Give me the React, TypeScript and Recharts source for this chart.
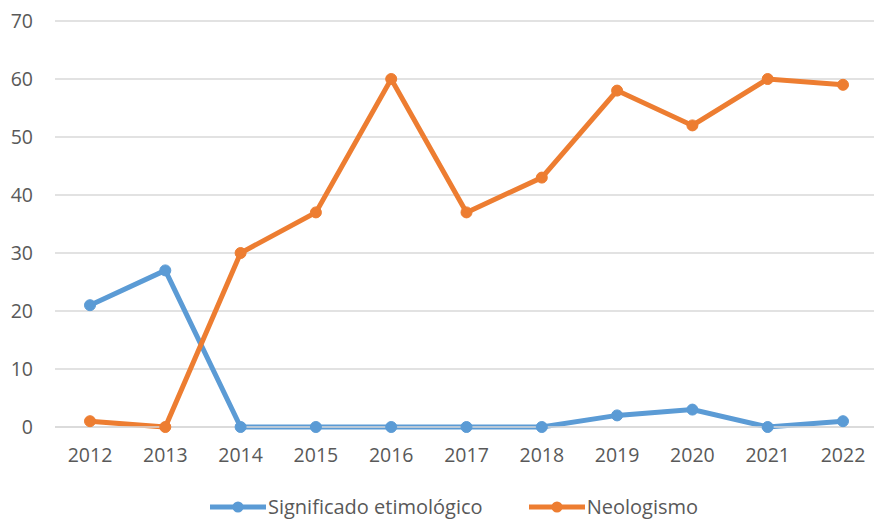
import { LineChart, Line, XAxis, YAxis, CartesianGrid, Legend } from "recharts";

const YEARS = ["2012", "2013", "2014", "2015", "2016", "2017", "2018", "2019", "2020", "2021", "2022"];
const SIGNIFICADO = [21, 27, 0, 0, 0, 0, 0, 2, 3, 0, 1];
const NEOLOGISMO = [1, 0, 30, 37, 60, 37, 43, 58, 52, 60, 59];
const Y_TICKS = [0, 10, 20, 30, 40, 50, 60, 70];

const BLUE = "#5B9BD5";
const ORANGE = "#ED7D31";
const FONT = "'Open Sans', 'Noto Sans', sans-serif";

const data = YEARS.map((year, i) => ({
  year,
  significado: SIGNIFICADO[i],
  neologismo: NEOLOGISMO[i],
}));

const legendItems = [
  { label: "Significado etimológico", color: BLUE },
  { label: "Neologismo", color: ORANGE },
];

function ChartLegend() {
  return (
    <div
      style={{
        display: "flex",
        justifyContent: "center",
        gap: 46,
        paddingTop: 24,
        paddingLeft: 34,
        fontFamily: FONT,
        fontSize: 20,
        color: "#595959",
      }}
    >
      {legendItems.map((item) => (
        <div key={item.label} style={{ display: "flex", alignItems: "center" }}>
          <svg width={56} height={14} style={{ marginRight: 2 }}>
            <line x1={0} y1={7} x2={56} y2={7} stroke={item.color} strokeWidth={5} />
            <circle cx={28} cy={7} r={5.5} fill={item.color} />
          </svg>
          <span>{item.label}</span>
        </div>
      ))}
    </div>
  );
}

export default function App() {
  return (
    <div style={{ position: "absolute", left: 0, top: 0, background: "#fff" }}>
      <LineChart width={874} height={519} data={data} margin={{ top: 21, right: 0, left: 0, bottom: 0 }}>
        <CartesianGrid vertical={false} stroke="#d9d9d9" strokeWidth={1.5} />
        <XAxis
          dataKey="year"
          height={42}
          padding={{ left: 35, right: 31 }}
          axisLine={{ stroke: "#d9d9d9", strokeWidth: 1.5 }}
          tickLine={false}
          tickMargin={15}
          tick={{ fill: "#595959", fontSize: 19.5, fontFamily: FONT }}
          interval={0}
        />
        <YAxis
          width={55}
          domain={[0, 70]}
          ticks={Y_TICKS}
          axisLine={false}
          tickLine={false}
          tickMargin={16}
          tick={{ fill: "#595959", fontSize: 19.5, fontFamily: FONT }}
        />
        <Legend verticalAlign="bottom" height={50} content={() => <ChartLegend />} />
        <Line
          dataKey="significado"
          name="Significado etimológico"
          stroke={BLUE}
          strokeWidth={5}
          dot={{ r: 5.5, fill: BLUE, stroke: BLUE, strokeWidth: 1 }}
          isAnimationActive={false}
        />
        <Line
          dataKey="neologismo"
          name="Neologismo"
          stroke={ORANGE}
          strokeWidth={5}
          dot={{ r: 5.5, fill: ORANGE, stroke: ORANGE, strokeWidth: 1 }}
          isAnimationActive={false}
        />
      </LineChart>
    </div>
  );
}
